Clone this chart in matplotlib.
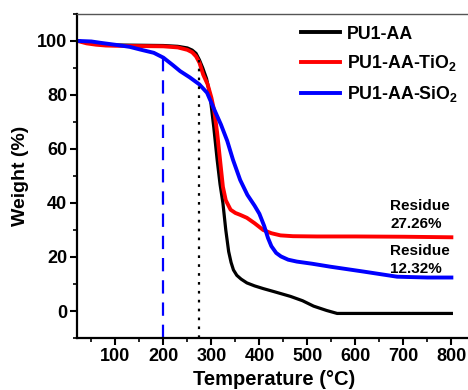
import matplotlib
matplotlib.use("Agg")
import matplotlib.pyplot as plt
from matplotlib.ticker import MultipleLocator

plt.rcParams['font.family'] = ['Liberation Sans', 'DejaVu Sans']
plt.rcParams['font.weight'] = 'bold'
plt.rcParams['mathtext.fontset'] = 'custom'
plt.rcParams['mathtext.rm'] = 'Liberation Sans:bold'
plt.rcParams['mathtext.default'] = 'rm'

# Data
t_aa = [21, 50, 80, 100, 150, 200, 230, 250, 260, 268, 275, 282, 290, 297, 305, 312, 318, 324,
        330, 336, 341, 346, 353, 362, 374, 390, 408, 430, 465, 490, 513, 540, 562, 600, 700, 800]
w_aa = [100, 99.2, 98.7, 98.5, 98.4, 98.3, 98.0, 97.4, 96.6, 95.4, 93.0, 90.0, 86.0, 80.0, 68.0,
        56.0, 47.0, 40.0, 30.0, 22.0, 18.0, 15.2, 13.2, 11.8, 10.4, 9.3, 8.3, 7.2, 5.4, 3.8, 1.8,
        0.2, -0.9, -0.9, -0.9, -0.9]

t_ti = [21, 40, 60, 80, 100, 150, 200, 230, 250, 260, 268, 275, 283, 292, 300, 306, 312, 318,
        324, 330, 340, 350, 360, 374, 390, 408, 425, 444, 470, 520, 600, 700, 800]
w_ti = [100, 99.1, 98.6, 98.3, 98.2, 98.1, 98.0, 97.6, 96.7, 95.8, 94.3, 92.0, 87.5, 84.0, 79.0,
        74.0, 66.0, 56.0, 46.0, 41.0, 37.5, 36.3, 35.6, 34.5, 32.5, 30.0, 28.8, 28.0, 27.7, 27.6,
        27.6, 27.5, 27.3]

t_si = [21, 50, 69, 103, 130, 152, 180, 200, 220, 235, 255, 275, 291, 305, 320, 333, 345,
        360, 375, 390, 400, 410, 418, 425, 435, 445, 460, 478, 510, 548, 617, 687, 750, 800]
w_si = [100, 99.8, 99.3, 98.5, 97.8, 96.8, 95.6, 93.8, 91.0, 88.8, 86.5, 83.9, 80.8, 75.0, 69.0,
        63.0, 56.0, 48.5, 43.0, 39.0, 36.0, 31.5, 27.0, 24.0, 21.5, 20.2, 19.0, 18.3, 17.5,
        16.4, 14.6, 12.7, 12.4, 12.4]

labels = ['PU1-AA', 'PU1-AA-TiO$_2$', 'PU1-AA-SiO$_2$']
colors = ['black', '#ff0000', '#0000ff']

onset_si = (200, 93.8)
onset_aa = (274, 93.0)

residues = [('Residue\n27.26%', 673, 35.5), ('Residue\n12.32%', 673, 18.8)]

fig = plt.figure(figsize=(4.68, 3.90), dpi=100)
ax = fig.add_axes([0.1645, 0.1333, 0.841, 0.831])

ax.plot(t_aa, w_aa, color=colors[0], lw=2.3, label=labels[0], solid_joinstyle='round')
ax.plot(t_ti, w_ti, color=colors[1], lw=2.8, label=labels[1], solid_joinstyle='round')
ax.plot(t_si, w_si, color=colors[2], lw=2.8, label=labels[2], solid_joinstyle='round')

ax.plot([onset_si[0], onset_si[0]], [-10, onset_si[1]], color='#0000ff', lw=1.6,
        linestyle=(0, (6, 4)))
ax.plot([onset_aa[0], onset_aa[0]], [-10, onset_aa[1]], color='black', lw=1.6,
        linestyle=(0, (1.2, 2.8)))

for txt, x, y in residues:
    ax.text(x, y, txt, fontsize=11, fontweight='bold', ha='left', va='center', linespacing=1.35)

ax.set_xlim(20, 840)
ax.set_ylim(-10, 110)
ax.xaxis.set_minor_locator(MultipleLocator(50))
ax.yaxis.set_minor_locator(MultipleLocator(10))
ax.set_xticks([100, 200, 300, 400, 500, 600, 700, 800])
ax.set_yticks([0, 20, 40, 60, 80, 100])

for s in ['left', 'bottom']:
    ax.spines[s].set_linewidth(1.6)
ax.spines['right'].set_visible(False)
ax.spines['top'].set_linewidth(1.0)
ax.spines['top'].set_color('#555555')

ax.tick_params(which='major', direction='out', length=5, width=1.5, labelsize=13, pad=2,
               top=False, right=False)
ax.tick_params(which='minor', direction='out', length=3, width=1.2, top=False, right=False)
for lab in ax.get_xticklabels() + ax.get_yticklabels():
    lab.set_fontweight('bold')

ax.set_xlabel('Temperature (°C)', fontsize=14.5, fontweight='bold', labelpad=4)
ax.set_ylabel('Weight (%)', fontsize=14, fontweight='bold', labelpad=6)

leg = ax.legend(loc='upper left', bbox_to_anchor=(0.552, 0.986), frameon=False, fontsize=12.8,
                handlelength=2.2, handletextpad=0.34, labelspacing=0.6, borderaxespad=0)
for t in leg.get_texts():
    t.set_fontweight('bold')
for h in leg.legend_handles:
    h.set_linewidth(2.8)

fig.savefig('out.png', dpi=100)
